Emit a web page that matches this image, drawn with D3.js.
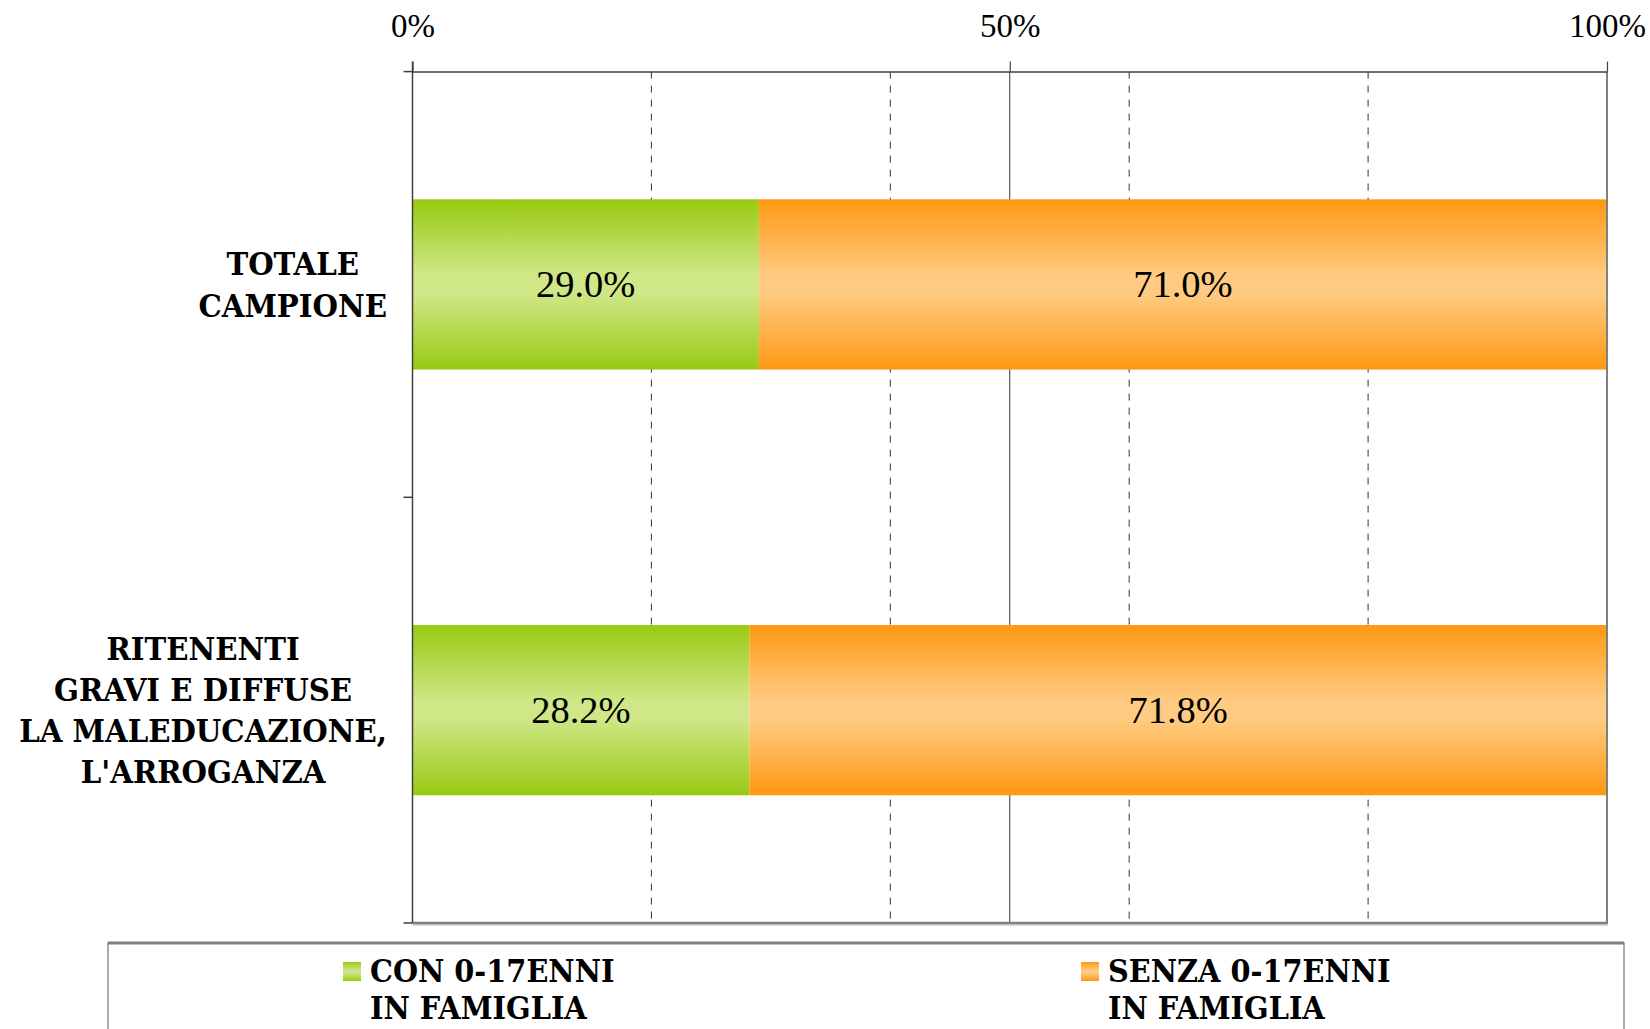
<!DOCTYPE html>
<html><head><meta charset="utf-8">
<script src="https://cdn.jsdelivr.net/npm/d3@7"></script>
<style>body{margin:0;background:#fff}svg{display:block}</style>
</head><body>
<svg id="c" width="1650" height="1029"></svg>
<script>
const categories = [["TOTALE","CAMPIONE"],["RITENENTI","GRAVI E DIFFUSE","LA MALEDUCAZIONE,","L'ARROGANZA"]];
const seriesNames = [["CON 0-17ENNI","IN FAMIGLIA"],["SENZA 0-17ENNI","IN FAMIGLIA"]];
const conValues = [29.0, 28.2];
const senzaValues = [71.0, 71.8];
const tickLabels = [0, 50, 100];
const gridValues = [20, 40, 60, 80];

const svg = d3.select("#c");
const L = 412.5, R = 1607, T = 71.6, B = 923;
const x = d3.scaleLinear().domain([0,100]).range([L,R]);
const y = d3.scaleBand().domain(d3.range(categories.length)).range([T,B]).paddingInner(0.6).paddingOuter(0.3);
const yb = d3.scaleBand().domain(d3.range(categories.length)).range([T,B]);

const defs = svg.append("defs");
function grad(id, edge, mid){
  const g = defs.append("linearGradient").attr("id",id).attr("x1",0).attr("y1",0).attr("x2",0).attr("y2",1);
  [[0,edge],[0.45,mid],[0.55,mid],[1,edge]].forEach(([o,c])=>g.append("stop").attr("offset",o).attr("stop-color",c));
}
grad("gG","#98ca12","#cfe787");
grad("gO","#ff9813","#ffcb82");

// gridlines
svg.append("g").selectAll("line").data(gridValues).join("line")
  .attr("x1",d=>x(d)).attr("x2",d=>x(d)).attr("y1",T).attr("y2",B)
  .attr("stroke","#333").attr("stroke-width",1).attr("stroke-dasharray","7,7");
svg.append("line").attr("x1",x(50)).attr("x2",x(50)).attr("y1",T).attr("y2",B).attr("stroke","#333").attr("stroke-width",1);

// bars
const stacks = categories.map((c,i)=>[{s:0,e:conValues[i],f:"url(#gG)"},{s:conValues[i],e:conValues[i]+senzaValues[i],f:"url(#gO)"}]);
const bg = svg.append("g");
stacks.forEach((st,i)=>{
  bg.selectAll(null).data(st).join("rect")
    .attr("x",d=>x(d.s)).attr("width",d=>x(d.e)-x(d.s))
    .attr("y",y(i)).attr("height",y.bandwidth()).attr("fill",d=>d.f);
  bg.selectAll(null).data([{v:conValues[i],s:0,e:conValues[i]},{v:senzaValues[i],s:conValues[i],e:100}]).join("text")
    .attr("x",d=>(x(d.s)+x(d.e))/2).attr("y",y(i)+y.bandwidth()/2)
    .attr("text-anchor","middle").attr("dominant-baseline","central")
    .style("font-family","'Liberation Serif', serif").style("font-size","38.5px").attr("fill","#000")
    .text(d=>d.v.toFixed(1)+"%");
});

// right & bottom border
svg.append("line").attr("x1",R).attr("x2",R).attr("y1",T).attr("y2",B+1).attr("stroke","#808080").attr("stroke-width",2);
svg.append("line").attr("x1",L).attr("x2",R+1).attr("y1",B+2).attr("y2",B+2).attr("stroke","#d9d9d9").attr("stroke-width",2);
svg.append("line").attr("x1",L).attr("x2",R+1).attr("y1",B).attr("y2",B).attr("stroke","#808080").attr("stroke-width",2.5);

// left axis
svg.append("line").attr("x1",L).attr("x2",L).attr("y1",T-10).attr("y2",B).attr("stroke","#404040").attr("stroke-width",1.5);
svg.append("g").selectAll("line").data([T, yb(1), B]).join("line")
  .attr("x1",L-9).attr("x2",L).attr("y1",d=>d).attr("y2",d=>d).attr("stroke","#404040").attr("stroke-width",1.5);

// top axis
const ax = svg.append("g").attr("transform",`translate(0,${T})`)
  .call(d3.axisTop(x).tickValues(tickLabels).tickSize(10).tickSizeOuter(0).tickFormat(d=>d+"%"));
ax.select(".domain").attr("stroke","#404040").attr("stroke-width",1.5);
ax.selectAll(".tick line").attr("stroke","#404040").attr("stroke-width",1.2);
ax.selectAll(".tick text").attr("y",-46).attr("dy","0.35em").attr("fill","#000")
  .style("font-family","'Liberation Serif', serif").style("font-size","33px");

// category labels
const labFont = "'DejaVu Serif Condensed','DejaVu Serif',serif";
categories.forEach((lines,i)=>{
  const cy = y(i)+y.bandwidth()/2;
  const lh = i===0 ? 42 : 41;
  const g = svg.append("g");
  const ts = g.selectAll("text").data(lines).join("text")
    .attr("y",(d,k)=>cy+(k-(lines.length-1)/2)*lh)
    .attr("text-anchor","middle").attr("dominant-baseline","central")
    .style("font-family",labFont).style("font-weight","bold").style("font-size","32.5px").attr("fill","#000")
    .text(d=>d);
  let mw = 0; ts.each(function(){mw=Math.max(mw,this.getComputedTextLength());});
  ts.attr("x", 387 - mw/2);
});

// legend
const lg = svg.append("g");
lg.append("rect").attr("x",108).attr("y",943).attr("width",1516).attr("height",120).attr("fill","#fff").attr("stroke","#595959").attr("stroke-width",1);
lg.append("line").attr("x1",108).attr("x2",1624).attr("y1",943).attr("y2",943).attr("stroke","#7f7f7f").attr("stroke-width",3);
const legX = [343, 1081];
const fills = ["url(#gG)","url(#gO)"];
seriesNames.forEach((lines,i)=>{
  lg.append("rect").attr("x",legX[i]).attr("y",962).attr("width",18).attr("height",19).attr("fill",fills[i]);
  lg.selectAll(null).data(lines).join("text")
    .attr("x",legX[i]+27).attr("y",(d,k)=>971+k*37)
    .attr("dominant-baseline","central")
    .style("font-family",labFont).style("font-weight","bold").style("font-size","32px").attr("fill","#000")
    .text(d=>d);
});
</script>
</body></html>
